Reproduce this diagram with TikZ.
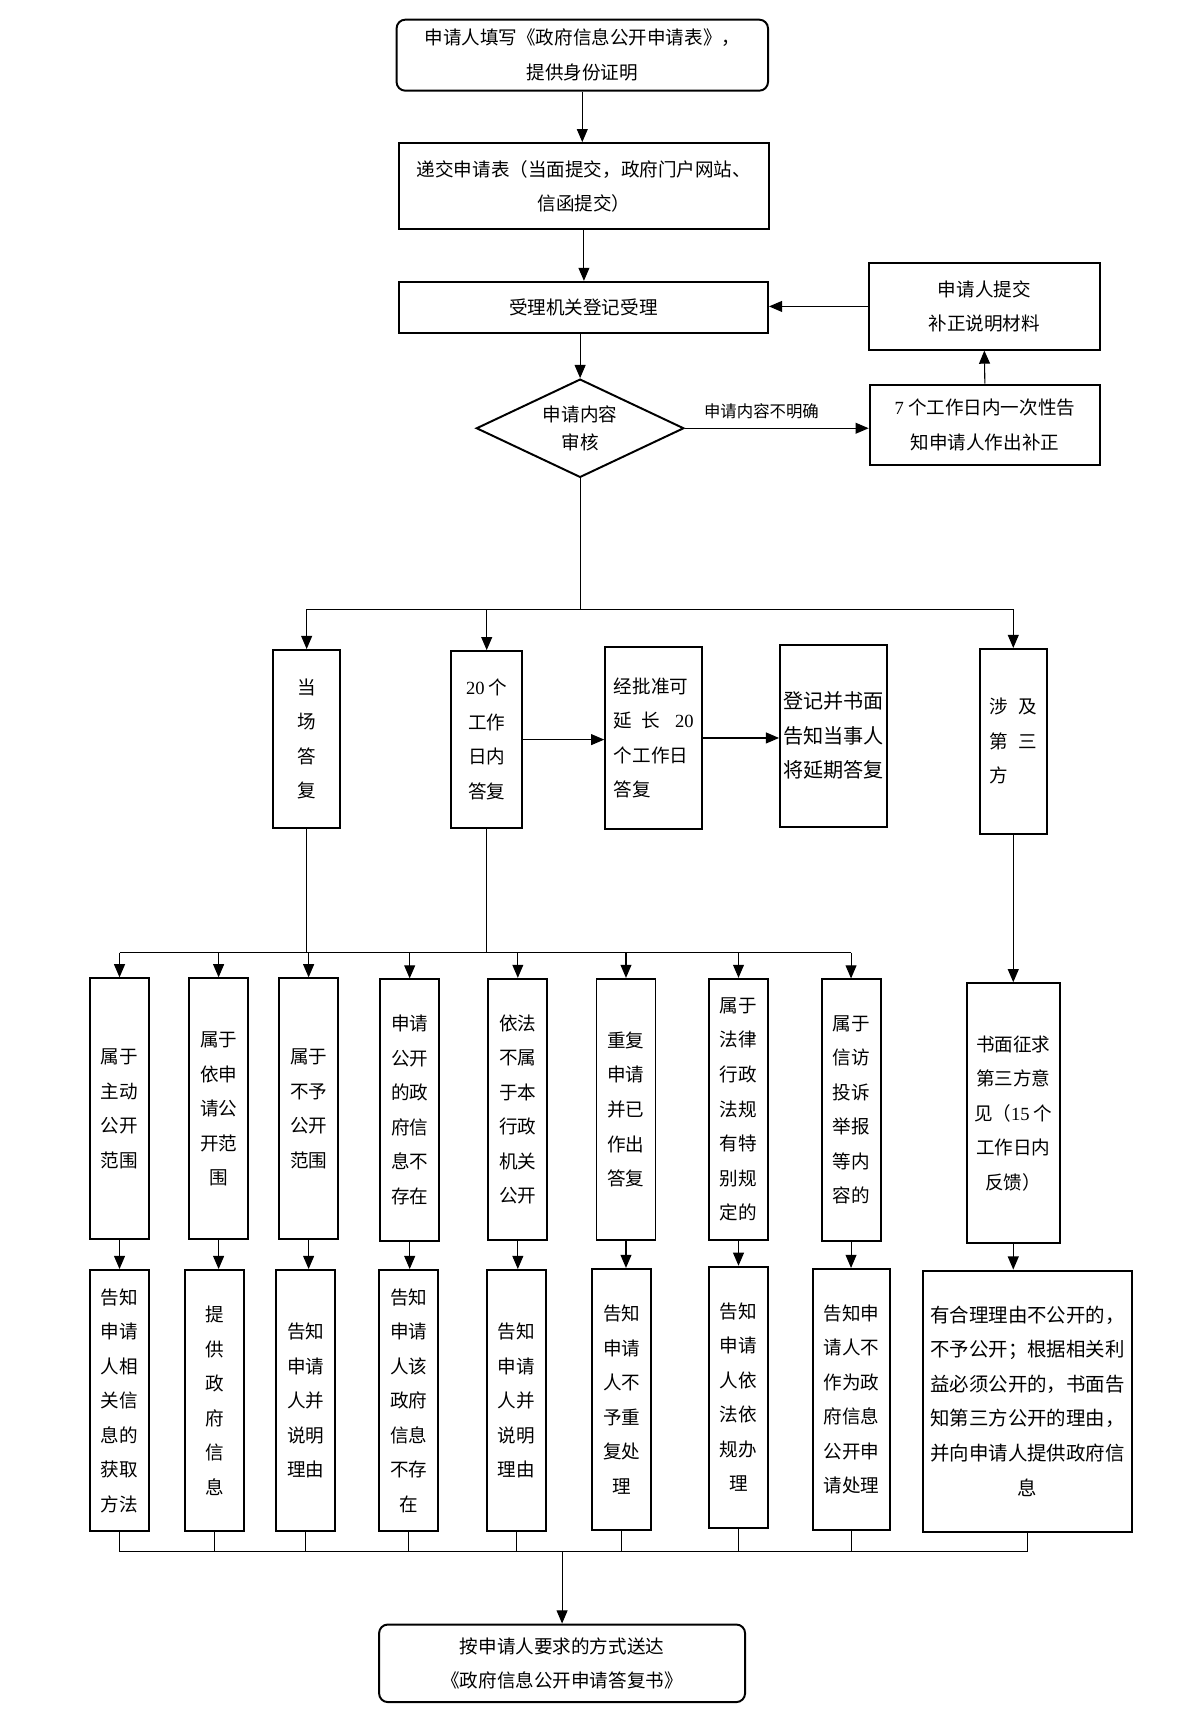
\documentclass[tikz,border=0pt]{standalone}
\usepackage{fontspec}
\setmainfont{Noto Sans CJK SC}
\newfontfamily\latn{Liberation Serif}
\usetikzlibrary{arrows.meta,shapes.geometric}

\begin{document}
\begin{tikzpicture}[x=0.5pt, y=-0.5pt, line width=0.5pt,
  every node/.style={font=\fontsize{8.5}{15.8}\selectfont, align=center, inner sep=0pt},
  box/.style={draw, line width=0.9pt},
  rbox/.style={box, rounded corners=4pt},
  tall/.style={box, minimum width=27pt, minimum height=119.5pt},
  arr/.style={-{Triangle[length=6pt,width=5pt]}}]
  \useasboundingbox (0,0) rectangle (1098,1568);

  \node[rbox, minimum width=170pt, minimum height=32.5pt] (apply) at (533,50.5) {申请人填写《政府信息公开申请表》，\\提供身份证明};
  \node[box, minimum width=169.5pt, minimum height=39.5pt] (submit) at (534.5,170.5) {递交申请表（当面提交，政府门户网站、\\信函提交）};
  \node[box, minimum width=169pt, minimum height=23.5pt] (accept) at (534,281.5) {受理机关登记受理};
  \node[box, minimum width=106pt, minimum height=39.5pt] (supply) at (901,280.5) {申请人提交\\补正说明材料};
  \node[box, diamond, aspect=2.1, minimum width=95pt, minimum height=45pt, font=\fontsize{8.5}{12.5}\selectfont] (check) at (531,392) {申请内容\\审核};
  \node[box, minimum width=105.5pt, minimum height=37pt] (notify) at (901.5,389) {{\latn 7} 个工作日内一次性告\\知申请人作出补正};
  \node[font=\fontsize{7.5}{9}\selectfont] (unclear) at (697,376) {申请内容不明确};

  \node[box, minimum width=30.5pt, minimum height=81.5pt] (onsite) at (280.7,676.5) {当\\场\\答\\复};
  \node[box, minimum width=32.5pt, minimum height=81pt] (within) at (445.5,677) {{\latn 20} 个\\工作\\日内\\答复};
  \node[box, minimum width=44.5pt, minimum height=83.5pt, align=left] (extend) at (598.5,675.5) {经批准可\\延\hspace{0.5em}长\hspace{0.8em}{\latn 20}\\个工作日\\答复};
  \node[box, minimum width=49pt, minimum height=83.5pt, font=\fontsize{9.2}{15.8}\selectfont] (register) at (763,673.5) {登记并书面\\告知当事人\\将延期答复};
  \node[box, minimum width=30.5pt, minimum height=84.5pt, align=left] (third) at (927.5,678.5) {涉\hspace{0.6em}及\\第\hspace{0.6em}三\\方};

  \node[tall] (r3a) at (109.4,1015) {属于\\主动\\公开\\范围};
  \node[tall] (r3b) at (200.1,1015) {属于\\依申\\请公\\开范\\围};
  \node[tall] (r3c) at (282.5,1015) {属于\\不予\\公开\\范围};
  \node[tall] (r3d) at (375,1016) {申请\\公开\\的政\\府信\\息不\\存在};
  \node[tall] (r3e) at (474,1015.5) {依法\\不属\\于本\\行政\\机关\\公开};
  \node[tall] (r3f) at (573,1015.5) {重复\\申请\\并已\\作出\\答复};
  \node[tall] (r3g) at (676,1015.5) {属于\\法律\\行政\\法规\\有特\\别规\\定的};
  \node[tall] (r3h) at (779,1016) {属于\\信访\\投诉\\举报\\等内\\容的};
  \node[box, minimum width=42.5pt, minimum height=119pt] (consult) at (927.5,1019) {书面征求\\第三方意\\见（{\latn 15} 个\\工作日内\\反馈）};

  \node[tall] (r4a) at (109.4,1282) {告知\\申请\\人相\\关信\\息的\\获取\\方法};
  \node[tall] (r4b) at (196.4,1282) {提\\供\\政\\府\\信\\息};
  \node[tall] (r4c) at (279.8,1282) {告知\\申请\\人并\\说明\\理由};
  \node[tall] (r4d) at (374,1282) {告知\\申请\\人该\\政府\\信息\\不存\\在};
  \node[tall] (r4e) at (472.5,1282) {告知\\申请\\人并\\说明\\理由};
  \node[tall] (r4f) at (569,1281) {告知\\申请\\人不\\予重\\复处\\理};
  \node[tall] (r4g) at (676,1279) {告知\\申请\\人依\\法依\\规办\\理};
  \node[tall, minimum width=35.5pt] (r4h) at (779.5,1281) {告知申\\请人不\\作为政\\府信息\\公开申\\请处理};
  \node[box, minimum width=95.5pt, minimum height=119.5pt, font=\fontsize{8.9}{15.8}\selectfont] (r4i) at (940.5,1282.5) {有合理理由不公开的，\\不予公开；根据相关利\\益必须公开的，书面告\\知第三方公开的理由，\\并向申请人提供政府信\\息};

  \node[rbox, minimum width=167.5pt, minimum height=35.5pt] (reply) at (514.5,1522.5) {按申请人要求的方式送达\\《政府信息公开申请答复书》};

  \draw[arr] (apply.south) -- (apply.south |- submit.north);
  \draw[arr] (submit.south) -- (submit.south |- accept.north);
  \draw[arr] (accept.south -| check.north) -- (check.north);
  \draw[arr] (check.east) -- (check.east -| notify.west);
  \draw[arr] (notify.north) -- (supply.south);
  \draw[arr] (supply.west) -- (supply.west -| accept.east);

  \draw (check.south) -- ++(0,120) coordinate (split);
  \draw (onsite.north |- split) -- (third.north |- split);
  \foreach \n in {onsite,within,third}
    \draw[arr] (\n.north |- split) -- (\n.north);
  \draw[arr] (within.east) -- (within.east -| extend.west);
  \draw[arr] (extend.east) -- (extend.east -| register.west);

  \draw (within.south) -- ++(0,113) coordinate (bus);
  \draw (onsite.south) -- (onsite.south |- bus);
  \draw (r3a.north |- bus) -- (r3h.north |- bus);
  \foreach \n in {r3a,r3b,r3c,r3d,r3e,r3f,r3g,r3h}
    \draw[arr] (\n.north |- bus) -- (\n.north);
  \draw[arr] (third.south) -- (consult.north);

  \foreach \a/\b in {r3a/r4a,r3b/r4b,r3c/r4c,r3d/r4d,r3e/r4e,r3f/r4f,r3g/r4g,r3h/r4h,consult/r4i}
    \draw[arr] (\a.south) -- (\a.south |- \b.north);

  \draw (r4a.south) -- ++(0,18) coordinate (join);
  \draw (r4a.south |- join) -- (r4i.south |- join);
  \foreach \n in {r4b,r4c,r4d,r4e,r4f,r4g,r4h,r4i}
    \draw (\n.south) -- (\n.south |- join);
  \draw[arr] (reply.north |- join) -- (reply.north);
\end{tikzpicture}
\end{document}
